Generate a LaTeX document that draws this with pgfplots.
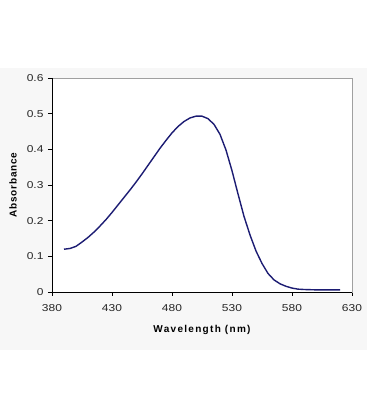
\documentclass[border=0pt]{standalone}
\usepackage{pgfplots}
\pgfplotsset{compat=1.18}
\usepackage{fontspec}
\setmainfont{Liberation Sans}
\newfontfamily\tickfont[FakeStretch=1.2]{Liberation Sans}
\definecolor{bandgray}{RGB}{247,247,247}
\definecolor{curve}{RGB}{28,28,115}
\definecolor{framegray}{RGB}{160,160,160}
\begin{document}
\begin{tikzpicture}[x=1bp,y=1bp]
\fill[white] (0,0) rectangle (367,420);
\fill[bandgray] (0,70) rectangle (367,352);
\begin{axis}[
  at={(52bp,128bp)}, anchor=south west,
  scale only axis, width=300bp, height=214bp,
  xmin=380, xmax=630, ymin=0, ymax=0.6,
  axis background/.style={fill=white},
  axis line style={draw=framegray, line width=0.6bp},
  xtick={380,430,480,530,580,630},
  xticklabels={380,430,480,530,580,630},
  ytick={0,0.1,0.2,0.3,0.4,0.5,0.6},
  yticklabels={0,0.1,0.2,0.3,0.4,0.5,0.6},
  xtick pos=bottom, ytick pos=left,
  tick align=outside,
  major tick length=4bp,
  tick style={black, line width=0.6bp},
  ticklabel style={font=\tickfont\fontsize{10bp}{12bp}\selectfont, text=black!85},
  xticklabel style={yshift=-5bp},
  yticklabel style={xshift=-1bp},
  xlabel={\addfontfeature{LetterSpace=13}Wavelength (nm)},
  ylabel={\addfontfeature{LetterSpace=8}Absorbance},
  label style={font=\fontsize{10bp}{12bp}\selectfont\bfseries},
  xlabel style={at={(axis description cs:0.5,-0.178)}, anchor=center},
  ylabel style={at={(axis description cs:-0.13,0.5)}, anchor=center, rotate=0},
  clip=false,
]
\addplot[curve, line width=1.4bp] coordinates {
(390,0.120) (395,0.122) (400,0.128) (405,0.140) (410,0.153) (415,0.168)
(420,0.185) (425,0.203) (430,0.223) (435,0.244) (440,0.265) (445,0.286)
(450,0.308) (455,0.331) (460,0.355) (465,0.379) (470,0.403) (475,0.425)
(480,0.446) (485,0.464) (490,0.478) (495,0.488) (500,0.493) (505,0.493)
(510,0.486) (515,0.470) (520,0.442) (525,0.398) (530,0.340) (535,0.275)
(540,0.212) (545,0.160) (550,0.115) (555,0.080) (560,0.052) (565,0.034)
(570,0.023) (575,0.016) (580,0.011) (585,0.008) (590,0.007) (600,0.006)
(610,0.006) (620,0.006)
};
\draw[black, line width=0.6bp] (rel axis cs:0,1) -- (rel axis cs:0,0) -- (rel axis cs:1,0);
\end{axis}
\end{tikzpicture}
\end{document}
